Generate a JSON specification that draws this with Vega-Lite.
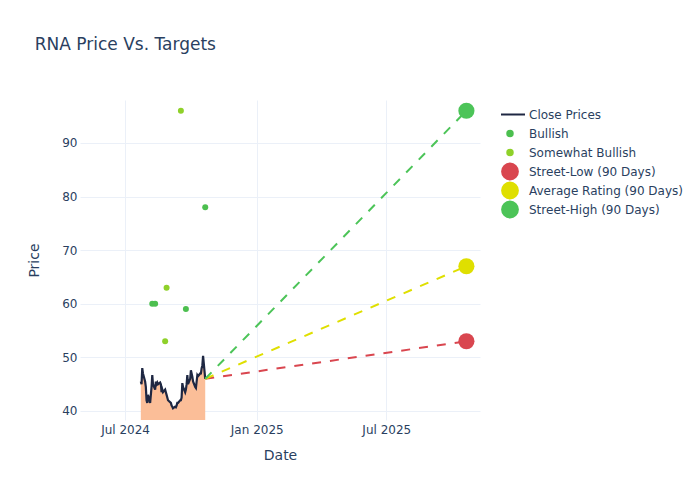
{
  "$schema": "https://vega.github.io/schema/vega-lite/v6.json",
  "width": 400,
  "height": 320,
  "autosize": {"type": "none"},
  "padding": {"left": 80, "top": 100, "right": 220, "bottom": 80},
  "background": "white",
  "title": {"text": "RNA Price Vs. Targets", "anchor": "start", "dx": 7, "offset": 46, "fontSize": 17, "font": "DejaVu Sans", "fontWeight": "normal", "color": "#2a3f5f"},
  "config": {
    "view": {"stroke": null},
    "font": "DejaVu Sans",
    "axis": {"labelFont": "DejaVu Sans", "titleFont": "DejaVu Sans", "labelColor": "#2a3f5f", "titleColor": "#2a3f5f", "labelFontSize": 12, "titleFontSize": 14, "titleFontWeight": "normal", "gridColor": "#EBF0F8", "gridWidth": 1, "domain": false, "ticks": false}
  },
  "datasets": {
    "prices": [
      {"date": "2024-07-23", "close": 45.5}, {"date": "2024-07-24", "close": 45}, {"date": "2024-07-25", "close": 48}, {"date": "2024-07-26", "close": 47},
      {"date": "2024-07-29", "close": 45.5}, {"date": "2024-07-30", "close": 44.5}, {"date": "2024-07-31", "close": 42}, {"date": "2024-08-01", "close": 41.5},
      {"date": "2024-08-02", "close": 43}, {"date": "2024-08-05", "close": 41.5}, {"date": "2024-08-06", "close": 43}, {"date": "2024-08-07", "close": 44.5},
      {"date": "2024-08-08", "close": 46.7}, {"date": "2024-08-09", "close": 45}, {"date": "2024-08-12", "close": 44}, {"date": "2024-08-13", "close": 45.5},
      {"date": "2024-08-14", "close": 45}, {"date": "2024-08-15", "close": 45.3}, {"date": "2024-08-16", "close": 45}, {"date": "2024-08-19", "close": 45.3},
      {"date": "2024-08-20", "close": 45}, {"date": "2024-08-21", "close": 43.5}, {"date": "2024-08-22", "close": 44}, {"date": "2024-08-23", "close": 43.5},
      {"date": "2024-08-26", "close": 44}, {"date": "2024-08-27", "close": 43.5}, {"date": "2024-08-28", "close": 43}, {"date": "2024-08-29", "close": 42.5},
      {"date": "2024-08-30", "close": 42}, {"date": "2024-09-03", "close": 41.5}, {"date": "2024-09-04", "close": 41}, {"date": "2024-09-05", "close": 40.8},
      {"date": "2024-09-06", "close": 40.5}, {"date": "2024-09-09", "close": 40.8}, {"date": "2024-09-10", "close": 40.7}, {"date": "2024-09-11", "close": 41},
      {"date": "2024-09-12", "close": 41.5}, {"date": "2024-09-13", "close": 41.5}, {"date": "2024-09-16", "close": 42}, {"date": "2024-09-17", "close": 42},
      {"date": "2024-09-18", "close": 42.5}, {"date": "2024-09-19", "close": 45.2}, {"date": "2024-09-20", "close": 44.5}, {"date": "2024-09-23", "close": 43.5},
      {"date": "2024-09-24", "close": 44}, {"date": "2024-09-25", "close": 45}, {"date": "2024-09-26", "close": 46.7}, {"date": "2024-09-27", "close": 45},
      {"date": "2024-09-30", "close": 46}, {"date": "2024-10-01", "close": 47.6}, {"date": "2024-10-02", "close": 47}, {"date": "2024-10-03", "close": 46.4},
      {"date": "2024-10-04", "close": 45.5}, {"date": "2024-10-07", "close": 44.5}, {"date": "2024-10-08", "close": 44.3}, {"date": "2024-10-09", "close": 45.5},
      {"date": "2024-10-10", "close": 46.7}, {"date": "2024-10-11", "close": 46.5}, {"date": "2024-10-14", "close": 47}, {"date": "2024-10-15", "close": 47},
      {"date": "2024-10-16", "close": 48}, {"date": "2024-10-17", "close": 48.5}, {"date": "2024-10-18", "close": 50.3}, {"date": "2024-10-21", "close": 46}
    ],
    "ratings": [
      {"date": "2024-08-08", "price": 60, "series": "Bullish"},
      {"date": "2024-08-12", "price": 60, "series": "Bullish"},
      {"date": "2024-09-24", "price": 59, "series": "Bullish"},
      {"date": "2024-10-21", "price": 78, "series": "Bullish"},
      {"date": "2024-08-26", "price": 53, "series": "Somewhat Bullish"},
      {"date": "2024-08-28", "price": 63, "series": "Somewhat Bullish"},
      {"date": "2024-09-17", "price": 96, "series": "Somewhat Bullish"}
    ],
    "trend": [
      {"date": "2024-10-21", "price": 46, "series": "Street-Low (90 Days)"},
      {"date": "2025-10-21", "price": 53, "series": "Street-Low (90 Days)"},
      {"date": "2024-10-21", "price": 46, "series": "Average Rating (90 Days)"},
      {"date": "2025-10-21", "price": 67, "series": "Average Rating (90 Days)"},
      {"date": "2024-10-21", "price": 46, "series": "Street-High (90 Days)"},
      {"date": "2025-10-21", "price": 96, "series": "Street-High (90 Days)"}
    ],
    "targets": [
      {"date": "2025-10-21", "price": 53, "series": "Street-Low (90 Days)"},
      {"date": "2025-10-21", "price": 67, "series": "Average Rating (90 Days)"},
      {"date": "2025-10-21", "price": 96, "series": "Street-High (90 Days)"}
    ]
  },
  "encoding": {
    "x": {
      "field": "date", "type": "temporal",
      "scale": {"type": "utc", "domain": [{"year": 2024, "month": 4, "date": 29, "utc": true}, {"year": 2025, "month": 11, "date": 9, "utc": true}]},
      "axis": {"title": "Date", "values": [{"year": 2024, "month": 7, "date": 1, "utc": true}, {"year": 2025, "month": 1, "date": 1, "utc": true}, {"year": 2025, "month": 7, "date": 1, "utc": true}], "labelExpr": "utcFormat(datum.value, '%b %Y')", "labelPadding": 4, "titlePadding": 13, "grid": true}
    }
  },
  "layer": [
    {
      "data": {"name": "prices"},
      "mark": {"type": "area", "color": "#FBBE98", "opacity": 1, "clip": true},
      "encoding": {
        "y": {"field": "close", "type": "quantitative", "scale": {"domain": [38.32, 98], "zero": false, "nice": false}, "axis": {"title": "Price", "values": [40, 50, 60, 70, 80, 90], "labelPadding": 3, "titlePadding": 20, "grid": true}}
      }
    },
    {
      "data": {"name": "prices"},
      "mark": {"type": "line", "strokeWidth": 2.2, "clip": true},
      "encoding": {
        "y": {"field": "close", "type": "quantitative"},
        "color": {
          "datum": "Close Prices",
          "title": null,
          "scale": {
            "domain": ["Close Prices", "Bullish", "Somewhat Bullish", "Street-Low (90 Days)", "Average Rating (90 Days)", "Street-High (90 Days)"],
            "range": ["#1e2742", "#4cbf4f", "#8fd12a", "#d9464f", "#dfdf00", "#4cc458"]
          },
          "legend": {
            "title": null,
            "orient": "none",
            "legendX": 421,
            "legendY": 5,
            "symbolSize": 250,
            "labelOffset": 10,
            "rowPadding": 0,
            "clipHeight": 19,
            "labelFontSize": 12,
            "labelColor": "#2a3f5f",
            "labelFont": "DejaVu Sans",
            "encode": {
              "symbols": {
                "update": {
                  "shape": {"signal": "datum.value === 'Close Prices' ? 'stroke' : 'circle'"},
                  "size": {"signal": "datum.value === 'Close Prices' ? 900 : (datum.value === 'Bullish' || datum.value === 'Somewhat Bullish' ? 30 : 250)"},
                  "fill": {"signal": "datum.value === 'Close Prices' ? 'transparent' : scale('color', datum.value)"},
                  "stroke": {"signal": "datum.value === 'Close Prices' ? scale('color', datum.value) : 'transparent'"},
                  "strokeWidth": {"value": 2},
                  "opacity": {"value": 1},
                  "fillOpacity": {"value": 1},
                  "strokeOpacity": {"value": 1}
                }
              }
            }
          }
        }
      }
    },
    {
      "data": {"name": "trend"},
      "mark": {"type": "line", "strokeWidth": 2, "strokeDash": [9, 9]},
      "encoding": {
        "y": {"field": "price", "type": "quantitative"},
        "color": {"field": "series", "type": "nominal", "title": null}
      }
    },
    {
      "data": {"name": "ratings"},
      "mark": {"type": "point", "filled": true, "size": 36, "opacity": 1},
      "encoding": {
        "y": {"field": "price", "type": "quantitative"},
        "color": {"field": "series", "type": "nominal", "title": null}
      }
    },
    {
      "data": {"name": "targets"},
      "mark": {"type": "point", "filled": true, "size": 260, "opacity": 1},
      "encoding": {
        "y": {"field": "price", "type": "quantitative"},
        "color": {"field": "series", "type": "nominal", "title": null}
      }
    }
  ]
}
